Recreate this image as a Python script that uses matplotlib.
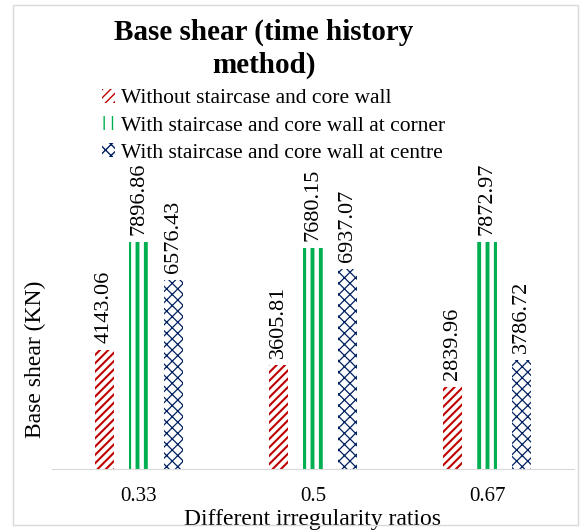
import numpy as np
import matplotlib
matplotlib.use('Agg')
import matplotlib.pyplot as plt
from matplotlib.patches import Rectangle

plt.rcParams['font.family'] = ['Liberation Serif', 'DejaVu Serif']

ratios = ['0.33', '0.5', '0.67']
without_core = [4143.06, 3605.81, 2839.96]
core_corner = [7896.86, 7680.15, 7872.97]
core_centre = [6576.43, 6937.07, 3786.72]
series_names = ['Without staircase and core wall',
                'With staircase and core wall at corner',
                'With staircase and core wall at centre']

fig = plt.figure(figsize=(5.85, 5.32), dpi=100)
ax = fig.add_axes([52 / 585, 1 - 469 / 532, 522 / 585, 259 / 532])

x = np.arange(len(ratios))
w = 0.11
offs = 0.2

# 三组柱子: 红色斜线, 绿色竖线, 蓝色网格
styles = [
    (without_core, -offs, '#c00000', '////', 1.5),
    (core_corner, 0, '#00b050', '||', 2.8),
    (core_centre, offs, '#002060', 'xxx', 0.9),
]
for (vals, off, col, hat, hlw), name in zip(styles, series_names):
    with plt.rc_context({'hatch.linewidth': hlw}):
        ax.bar(x + off, vals, w, color='white', edgecolor=col, hatch=hat,
               linewidth=0, label=name)
    for xi, v in zip(x + off, vals):
        ax.annotate(f'{v:.2f}', (xi, v), xytext=(0, 5), textcoords='offset points',
                    rotation=90, ha='center', va='bottom', fontsize=16,
                    annotation_clip=False)

ax.set_xlim(-0.5, 2.5)
ax.set_ylim(0, 9000)
ax.set_yticks([])
ax.set_xticks(x)
ax.set_xticklabels(ratios, fontsize=15)
ax.tick_params(axis='x', length=0, pad=13)
for s in ['top', 'right', 'left']:
    ax.spines[s].set_visible(False)
ax.spines['bottom'].set_color('#d9d9d9')
ax.set_xlabel('Different irregularity ratios', fontsize=17, labelpad=2)
ax.set_ylabel('Base shear (KN)', fontsize=17)
ax.yaxis.set_label_coords((46 - 52) / 522, (469 - 359) / 259)

fig.text(264 / 585, 1 - 49 / 532, 'Base shear (time history\nmethod)',
         ha='center', va='center', fontsize=21, fontweight='bold', linespacing=1.3)

fig.legend(loc='upper left', bbox_to_anchor=(102 / 585, 1 - 89 / 532),
           frameon=False, fontsize=15.5, handlelength=0.6, handleheight=0.6,
           handletextpad=0.3, labelspacing=0.36, borderpad=0, borderaxespad=0)

fig.patches.append(Rectangle((13 / 585, 1 - 525 / 532), 565 / 585, 520 / 532,
                             transform=fig.transFigure, fill=False,
                             edgecolor='#d9d9d9', linewidth=1))

fig.savefig('out.png', dpi=100)
